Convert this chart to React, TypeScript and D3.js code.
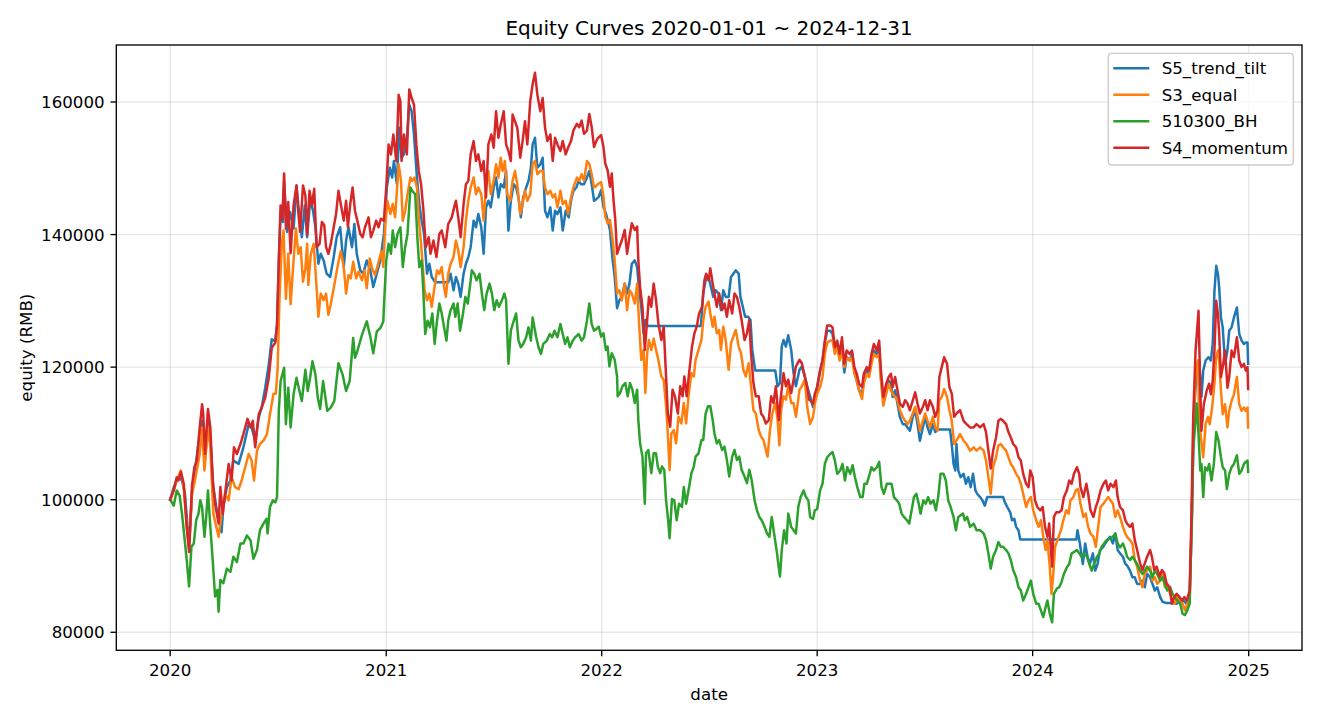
import React, { useEffect } from "react";
import * as d3 from "d3";

const W = 1320;
const H = 720;
const PLOT = { left: 116.3, right: 1302, top: 45, bottom: 650.3 };
const FONT = "DejaVu Sans, Verdana, sans-serif";

const chartTitle = "Equity Curves 2020-01-01 ~ 2024-12-31";
const xLabel = "date";
const yLabel = "equity (RMB)";
const seriesNames = ["S5_trend_tilt", "S3_equal", "510300_BH", "S4_momentum"];
const seriesColors = ["#1f77b4", "#ff7f0e", "#2ca02c", "#d62728"];
const yTickValues = [80000, 100000, 120000, 140000, 160000];
const xTickYears = [2020, 2021, 2022, 2023, 2024, 2025];
const yLimits = [77280, 168600];
const DAY = 86400000;
const startUtc = Date.UTC(2020, 0, 1);
const endUtc = Date.UTC(2024, 11, 31);

// [days since 2020-01-01, equity in thousand RMB]
const s5TrendTilt: [number, number][] = [
  [0,100],[6,101.9],[14,103.4],[20,102.9],[25,100.9],[32,92.9],[37,101.4],[42,104.4],[50,109.9],[54,111.9],[59,105.9],[64,111.9],[68,109.4],[73,101.9],[79,98.4],[87,95.1],[90,98.9],[96,101.9],[102,102.9],[107,105.9],[116,105.4],[124,107.9],[133,111.4],[138,110.9],[144,108.9],[150,112.4],[155,113.9],[161,116.9],[167,120.4],[172,124.2],[178,123.9],[181,126.4],[184,135.9],[187,143.4],[191,141.9],[193,147.9],[198,140.4],[203,143.4],[209,140.9],[214,147.4],[217,144.4],[223,139.6],[228,144.4],[232,139.6],[237,145.1],[242,143.6],[246,141.1],[251,135.6],[255,137.1],[260,136.1],[265,134.1],[271,133.6],[277,136.6],[282,139.6],[288,141.1],[294,135.1],[298,139.1],[302,141.1],[308,138.1],[312,141.6],[316,137.1],[322,134.6],[327,134.1],[333,136.1],[339,134.6],[344,132.1],[350,134.1],[356,136.1],
  [362,140.1],[367,147.1],[372,150.1],[376,148.6],[379,151.1],[384,147.6],[388,156.1],[392,151.6],[396,152.1],[401,154.6],[405,159.6],[409,158.6],[413,155.1],[418,148.6],[422,144.6],[426,142.1],[430,140.1],[435,134.1],[439,135.6],[443,133.6],[449,132.8],[457,132.8],[466,132.8],[471,132.8],[475,134.1],[480,131.6],[484,133.6],[488,132.6],[492,130.6],[497,134.1],[501,135.6],[505,136.6],[509,138.1],[514,142.1],[518,141.1],[522,143.1],[527,141.1],[531,137.1],[535,144.1],[539,145.1],[543,144.1],[548,147.1],[552,148.6],[556,145.6],[560,147.6],[565,147.1],[569,149.6],[573,140.6],[577,145.1],[582,147.6],[586,147.1],[590,145.6],[594,142.6],[598,145.6],[603,147.1],[607,148.1],[611,150.1],[614,153.6],[618,154.6],[622,150.1],[627,150.6],[631,151.6],[635,143.6],[639,142.6],[644,144.1],[648,140.6],[652,143.6],[656,143.1],[661,144.1],[665,140.6],[670,143.6],[675,142.6],[679,145.1],[683,146.6],[688,147.1],[692,148.1],[696,147.6],[701,147.6],[706,148.6],[710,149.6],[714,147.6],[718,145.1],
  [720,145.2],[726,145.7],[730,146.7],[734,144.2],[738,143.2],[741,142.2],[745,140.7],[749,136.6],[753,133.6],[757,128.9],[761,130.1],[765,130.6],[770,132.6],[774,131.1],[778,132.6],[782,135.6],[787,136.1],[791,135.1],[794,132.1],[798,129.1],[802,125.1],[805,127.1],[809,126.2],[899,126.2],[903,131.1],[907,133.1],[912,133.6],[916,132.1],[920,130.6],[924,131.6],[929,131.1],[933,128.6],[937,131.6],[941,130.6],[946,130.6],[950,133.6],[954,134.1],[958,134.6],[963,134.1],[966,130.6],[970,129.1],[974,127.6],[979,127.6],[983,127.1],[986,122.6],[991,119.5],[1025,119.5],[1029,117.1],[1033,117.6],[1036,123.1],[1039,124.1],[1043,123.1],[1047,124.8],[1052,122.6],[1056,119.1],[1060,117.1],[1066,119.6],[1070,120.1],[1075,118.6],[1079,117.1],[1084,115.6],
  [1089,114.0],[1092,115.5],[1096,117.0],[1101,119.5],[1105,121.0],[1109,123.7],[1113,125.5],[1118,125.5],[1122,125.0],[1126,122.5],[1130,123.5],[1134,121.5],[1138,123.0],[1142,119.2],[1146,121.5],[1151,121.0],[1155,122.0],[1159,119.5],[1163,118.0],[1167,116.5],[1172,116.0],[1175,118.0],[1180,119.5],[1184,119.0],[1188,121.0],[1192,122.5],[1197,122.0],[1201,123.0],[1204,118.5],[1208,115.0],[1213,116.5],[1217,118.0],[1221,117.5],[1224,115.5],[1228,116.5],[1232,114.5],[1236,112.5],[1241,111.4],[1245,111.4],[1249,110.9],[1253,110.4],[1258,112.5],[1262,113.5],[1266,111.4],[1270,108.9],[1275,110.9],[1279,112.5],[1283,110.9],[1287,109.9],[1292,111.4],[1296,110.2],[1301,110.6],[1321,110.6],[1324,108.4],[1327,105.4],[1330,104.4],[1332,108.4],[1335,104.4],[1339,103.4],[1344,103.9],[1348,102.4],[1352,103.4],[1356,101.9],[1360,103.9],[1364,101.4],[1367,100.9],[1372,100.4],[1376,99.9],[1380,99.1],[1384,100.4],[1411,100.4],[1414,99.6],[1418,98.9],[1423,98.1],[1426,96.9],[1430,97.1],[1433,95.9],[1437,95.4],[1440,94.0],[1535,94.0],
  [1537,95.4],[1541,93.4],[1546,90.3],[1550,93.4],[1554,91.4],[1558,90.3],[1563,91.9],[1567,89.3],[1571,90.3],[1575,92.4],[1580,92.8],[1584,93.4],[1588,93.9],[1592,94.4],[1597,93.4],[1601,94.9],[1605,92.4],[1609,91.9],[1614,91.4],[1618,90.3],[1621,90.1],[1626,89.3],[1630,88.3],[1634,88.3],[1638,87.3],[1643,87.3],[1647,87.8],[1651,86.8],[1655,88.8],[1660,88.3],[1664,87.3],[1668,86.3],[1672,86.8],[1677,85.3],[1681,84.6],[1688,84.4],[1699,84.4],[1705,84.3],[1711,84.6],[1716,84.8],[1722,84.3],[1727,85.8],[1731,97.4],[1734,112.4],[1739,120.0],[1743,121.0],[1747,115.5],[1750,119.5],[1754,121.0],[1759,121.5],[1763,121.0],[1766,123.5],[1769,131.5],[1772,135.3],[1775,134.0],[1777,132.0],[1780,127.5],[1783,126.0],[1787,120.5],[1791,122.5],[1794,125.5],[1798,126.0],[1802,127.5],[1807,129.0],[1811,125.0],[1815,124.0],[1819,123.5],[1822,123.7],[1825,123.7],[1826,120.5],
];

const s3Equal: [number, number][] = [
  [0,100],[6,101.4],[11,102.9],[18,104.4],[23,101.9],[28,95.9],[32,92.9],[37,100.9],[42,102.9],[50,106.9],[54,110.9],[58,104.4],[64,110.9],[68,107.9],[73,97.9],[82,94.4],[87,97.9],[93,100.9],[99,99.9],[104,103.4],[110,101.9],[116,101.6],[121,102.9],[127,104.9],[133,106.9],[138,105.9],[142,102.9],[147,107.4],[152,108.4],[158,108.9],[164,109.9],[169,112.9],[175,116.0],[179,116.0],[182,119.9],[185,129.9],[189,138.6],[192,140.6],[196,130.3],[200,137.1],[204,129.5],[209,136.1],[213,140.9],[217,137.1],[221,138.1],[225,132.9],[229,134.9],[232,138.6],[234,132.4],[238,136.9],[243,138.6],[247,133.4],[251,127.6],[255,131.1],[260,130.1],[264,131.1],[268,127.9],[272,129.5],[277,131.9],[281,133.9],[285,135.9],[289,137.5],[294,135.1],[298,131.1],[302,133.9],[306,133.4],[310,135.9],[315,133.4],[319,134.4],[325,133.1],[329,134.6],[333,131.9],[338,136.4],[342,134.9],[347,133.9],[353,135.9],[358,137.5],
  [361,135.1],[364,141.1],[368,145.1],[373,143.1],[377,144.6],[381,142.6],[387,150.6],[391,148.1],[394,142.1],[398,143.6],[402,146.1],[407,148.6],[410,148.1],[414,148.6],[418,147.1],[421,142.6],[425,138.6],[428,135.1],[431,131.6],[435,130.1],[439,131.1],[443,129.1],[447,131.6],[452,134.6],[456,134.1],[460,135.1],[464,132.1],[467,130.6],[471,134.1],[475,135.6],[480,136.6],[484,139.1],[488,137.6],[492,135.1],[497,138.1],[501,142.1],[505,145.1],[509,147.1],[514,148.6],[518,146.1],[522,147.1],[527,146.1],[531,142.1],[535,147.1],[539,149.6],[543,146.1],[548,148.1],[552,150.6],[556,148.6],[560,151.6],[563,149.6],[567,151.1],[571,146.1],[576,145.1],[580,148.1],[584,149.6],[588,147.6],[593,143.1],[597,144.6],[601,146.6],[605,145.1],[610,146.1],[614,150.6],[618,151.1],[622,149.1],[627,149.6],[631,149.6],[635,147.1],[639,146.1],[644,146.6],[648,145.6],[652,146.1],[656,144.1],[661,146.6],[665,144.6],[670,145.1],[674,143.1],[679,145.6],[683,147.1],[689,148.6],[693,148.1],[697,149.1],[701,148.1],[706,151.1],[710,150.6],[714,149.1],[718,147.1],
  [720,147.2],[726,147.7],[730,147.9],[734,145.7],[737,142.7],[741,141.7],[745,142.2],[749,139.6],[753,136.1],[757,131.1],[761,131.6],[765,130.1],[770,132.6],[774,128.6],[778,131.6],[782,131.1],[787,129.6],[791,132.6],[794,127.1],[798,121.1],[802,122.6],[805,116.1],[808,122.1],[811,124.1],[815,122.6],[819,124.3],[823,122.6],[827,121.1],[832,118.6],[836,118.1],[840,114.1],[843,110.0],[846,104.5],[849,110.0],[853,110.5],[857,108.5],[861,112.5],[866,111.5],[870,114.6],[874,111.5],[878,115.6],[883,119.1],[887,118.6],[890,121.1],[895,122.6],[900,124.1],[903,127.1],[907,129.1],[912,129.9],[915,128.1],[919,126.1],[922,127.6],[926,125.1],[930,125.6],[933,122.6],[937,126.1],[941,124.1],[946,119.6],[950,123.6],[954,124.6],[958,125.6],[963,123.1],[967,122.1],[971,119.6],[975,118.6],[980,120.6],[984,117.1],[988,113.5],[992,113.0],[997,110.5],[1001,109.5],[1005,109.0],[1009,107.5],[1012,106.5],[1016,110.5],[1020,113.0],[1025,114.6],[1029,112.0],[1032,108.2],[1035,113.5],[1039,115.6],[1043,115.1],[1047,117.1],[1052,114.6],[1056,114.6],[1060,112.5],[1066,116.6],[1070,117.1],[1075,118.1],[1079,114.1],[1082,112.5],
  [1084,111.4],[1089,112.5],[1092,114.5],[1096,116.0],[1101,117.0],[1105,118.5],[1109,122.0],[1113,123.7],[1118,124.0],[1122,124.0],[1126,122.0],[1130,123.0],[1134,121.0],[1138,122.5],[1142,120.0],[1146,121.5],[1151,121.0],[1155,121.5],[1159,119.0],[1163,118.0],[1167,116.5],[1172,115.2],[1175,117.5],[1180,119.0],[1184,118.5],[1188,120.5],[1192,122.0],[1197,121.5],[1201,122.0],[1204,118.0],[1208,114.2],[1213,116.0],[1217,117.5],[1221,116.5],[1224,116.0],[1228,115.5],[1232,115.0],[1236,113.5],[1241,112.5],[1245,111.9],[1249,111.4],[1253,111.9],[1258,113.0],[1262,114.0],[1266,112.5],[1270,110.4],[1275,111.9],[1279,113.0],[1283,111.9],[1287,110.9],[1292,112.5],[1296,110.9],[1300,110.4],[1303,115.0],[1307,115.5],[1311,116.7],[1316,115.5],[1320,113.5],[1324,111.9],[1328,108.4],[1332,108.9],
  [1338,109.9],[1344,108.9],[1349,108.4],[1355,107.4],[1361,107.9],[1366,107.4],[1372,107.9],[1378,107.4],[1382,105.9],[1386,103.4],[1390,100.9],[1394,104.9],[1399,106.4],[1403,108.2],[1407,108.4],[1411,107.9],[1416,107.4],[1420,106.4],[1424,105.4],[1428,104.9],[1433,103.9],[1437,103.4],[1441,102.4],[1445,100.9],[1450,98.9],[1454,99.9],[1458,100.4],[1462,98.4],[1467,96.9],[1471,95.9],[1475,96.9],[1479,94.4],[1483,92.4],[1486,93.9],[1490,89.9],[1493,85.8],[1496,88.8],[1499,92.9],[1505,94.4],[1509,95.4],[1513,96.9],[1518,98.4],[1522,97.9],[1525,99.9],[1530,100.4],[1534,101.4],[1538,101.6],[1542,99.4],[1547,97.4],[1551,97.9],[1555,95.9],[1559,94.9],[1564,94.4],[1568,92.9],[1572,95.9],[1576,98.9],[1581,99.4],[1585,99.9],[1589,100.4],
  [1597,99.4],[1601,97.4],[1605,98.4],[1609,97.4],[1614,95.9],[1618,94.9],[1621,94.4],[1626,93.9],[1630,93.4],[1634,90.9],[1638,89.9],[1643,87.8],[1647,86.8],[1651,88.8],[1655,89.3],[1660,89.9],[1664,87.8],[1668,88.3],[1672,87.3],[1677,87.8],[1681,88.8],[1685,86.8],[1689,87.3],[1694,85.8],[1698,84.8],[1702,84.3],[1706,85.3],[1711,84.8],[1715,84.3],[1719,83.3],[1723,84.3],[1727,84.8],[1730,94.9],[1733,109.9],[1737,119.0],[1741,121.0],[1743,112.5],[1746,109.4],[1750,106.4],[1754,111.4],[1758,112.5],[1761,111.4],[1765,113.9],[1769,117.5],[1772,121.5],[1775,122.5],[1777,121.0],[1780,116.5],[1783,112.9],[1787,114.4],[1791,110.9],[1794,113.4],[1798,114.9],[1802,115.9],[1807,118.5],[1811,114.4],[1815,113.4],[1819,113.9],[1822,113.4],[1825,113.9],[1826,110.9],
];

const bh510300: [number, number][] = [
  [0,100],[6,99.1],[11,101.4],[16,100.6],[20,97.9],[24,94.4],[28,90.9],[32,86.9],[36,92.9],[40,93.4],[44,96.9],[48,97.9],[51,99.9],[54,98.9],[58,94.4],[61,97.4],[64,101.4],[68,95.9],[72,90.9],[76,85.4],[80,86.4],[82,83.1],[85,87.9],[90,87.4],[96,89.6],[102,89.1],[107,91.4],[113,90.6],[119,93.4],[124,93.4],[130,94.6],[136,93.9],[141,91.1],[147,92.4],[152,95.4],[158,96.4],[163,97.1],[165,94.9],[169,98.9],[174,99.9],[178,99.6],[181,100.4],[184,113.4],[187,117.9],[193,119.9],[196,111.4],[200,116.9],[204,110.9],[209,115.9],[214,118.4],[219,116.4],[223,114.9],[229,119.6],[233,116.4],[237,118.4],[241,120.9],[246,118.9],[250,115.4],[254,113.7],[259,117.9],[263,115.4],[266,113.4],[272,113.9],[278,114.9],[285,120.6],[292,118.9],[298,116.4],[304,117.9],[310,124.4],[313,121.4],[317,122.4],[325,124.9],[333,126.9],[339,124.6],[344,122.1],[350,125.4],[356,125.9],
  [361,126.9],[362,129.0],[366,136.1],[370,138.6],[374,137.1],[377,140.6],[381,138.1],[385,140.1],[390,141.1],[394,135.1],[398,138.1],[402,140.1],[407,147.1],[410,146.6],[415,146.1],[419,139.1],[422,135.1],[426,136.1],[429,131.1],[432,125.0],[436,127.0],[440,126.0],[444,128.1],[448,123.5],[452,127.0],[456,129.6],[460,128.1],[464,126.0],[468,124.0],[471,127.0],[475,128.6],[480,129.6],[483,127.6],[487,129.6],[491,125.5],[496,128.1],[500,130.6],[504,129.6],[507,131.6],[511,134.6],[515,134.1],[519,133.1],[524,134.1],[528,131.1],[532,128.6],[536,131.1],[541,132.6],[545,131.1],[549,128.6],[553,130.1],[557,129.1],[562,130.1],[566,131.1],[569,130.1],[573,120.5],[577,125.5],[582,127.0],[586,128.1],[590,124.0],[594,123.0],[598,123.5],[603,124.5],[607,126.0],[611,124.0],[614,127.5],[620,124.5],[624,123.0],[628,122.0],[632,123.5],[638,124.0],[643,125.0],[647,124.5],[651,125.5],[656,124.5],[661,126.5],[665,125.0],[669,123.5],[673,124.5],[677,123.0],[682,124.0],[686,124.5],[692,125.0],[697,124.0],[701,124.5],[706,127.0],[710,129.6],[714,126.5],[718,125.5],
  [720,125.6],[726,126.1],[730,124.6],[734,125.1],[738,122.6],[741,123.1],[744,120.1],[748,122.1],[753,121.1],[757,118.6],[758,115.6],[762,116.1],[766,117.1],[771,117.6],[775,115.6],[779,117.6],[783,116.6],[787,114.6],[791,116.6],[793,112.0],[796,108.5],[800,106.5],[804,99.4],[806,107.0],[810,107.5],[815,104.0],[819,107.0],[823,107.0],[826,105.0],[830,104.0],[833,105.0],[837,104.5],[840,99.9],[843,97.4],[846,94.2],[850,100.1],[854,99.9],[858,96.9],[862,99.4],[867,98.9],[870,101.9],[874,99.4],[878,101.4],[883,104.0],[887,105.0],[890,106.5],[895,107.0],[900,109.0],[903,109.0],[907,113.0],[911,114.1],[915,114.1],[919,112.0],[922,110.0],[926,108.5],[930,109.0],[935,107.5],[939,108.0],[943,106.0],[947,103.5],[952,106.5],[956,107.5],[960,106.0],[964,106.5],[968,104.5],[973,103.5],[977,102.5],[981,104.5],[985,103.0],[990,99.9],[994,98.4],[998,97.4],[1002,96.9],[1007,95.9],[1011,94.9],[1015,94.4],[1019,97.4],[1023,94.9],[1028,91.9],[1030,90.4],[1033,88.4],[1036,92.4],[1040,95.4],[1044,93.4],[1047,97.9],[1052,95.9],[1056,95.4],[1060,94.9],[1064,98.9],[1068,100.4],[1073,101.4],[1077,100.4],[1081,99.9],
  [1084,97.4],[1089,97.1],[1092,98.4],[1096,98.6],[1101,101.4],[1105,102.4],[1109,105.4],[1113,106.4],[1118,106.9],[1122,107.2],[1126,105.9],[1130,103.9],[1135,104.4],[1139,105.4],[1143,102.9],[1147,104.9],[1152,103.9],[1156,105.2],[1160,103.4],[1164,101.9],[1169,100.4],[1173,100.4],[1176,102.4],[1180,102.4],[1185,103.9],[1188,104.9],[1192,104.4],[1197,104.9],[1201,105.7],[1205,101.9],[1209,100.9],[1214,102.4],[1218,102.4],[1222,102.4],[1226,100.4],[1231,99.9],[1235,99.4],[1239,97.9],[1243,97.4],[1248,96.9],[1252,96.4],[1256,98.4],[1260,100.4],[1264,100.9],[1268,99.4],[1271,97.9],[1276,99.9],[1280,99.4],[1284,100.4],[1288,99.4],[1293,99.9],[1297,98.4],[1301,100.4],[1305,103.9],[1310,103.9],[1314,102.9],[1318,99.9],[1322,98.9],[1327,97.4],[1331,95.4],[1335,97.4],
  [1343,97.9],[1346,96.9],[1350,97.4],[1355,95.9],[1361,96.4],[1366,95.4],[1372,95.4],[1378,94.9],[1382,93.9],[1386,91.9],[1390,89.6],[1394,91.4],[1399,92.4],[1403,93.6],[1407,92.9],[1411,92.9],[1416,92.4],[1420,91.9],[1424,90.9],[1428,89.4],[1433,88.3],[1437,86.8],[1441,86.3],[1445,84.8],[1450,85.8],[1454,86.8],[1458,87.8],[1462,85.8],[1467,84.3],[1471,84.3],[1475,83.3],[1479,82.3],[1483,83.8],[1486,84.8],[1490,82.8],[1494,81.5],[1497,85.8],[1502,86.6],[1506,86.8],[1510,87.6],[1514,88.8],[1519,89.8],[1523,90.3],[1527,91.9],[1531,92.1],[1536,92.4],[1540,91.9],[1544,91.4],[1548,91.9],[1553,91.4],[1557,90.3],[1561,89.3],[1565,90.3],[1570,91.4],[1574,91.9],[1578,92.9],[1582,93.4],[1586,93.9],[1591,94.1],
  [1597,94.4],[1601,94.9],[1605,93.4],[1609,92.8],[1614,93.4],[1618,92.4],[1621,91.4],[1626,90.9],[1630,91.4],[1634,90.9],[1638,90.3],[1643,89.3],[1647,88.8],[1651,89.3],[1655,89.9],[1660,89.3],[1664,88.3],[1668,89.3],[1672,88.8],[1677,87.8],[1681,88.3],[1685,87.3],[1689,86.3],[1694,86.8],[1698,85.8],[1702,85.3],[1706,84.8],[1711,84.3],[1715,82.8],[1719,82.6],[1723,83.3],[1727,84.3],[1730,94.9],[1733,107.4],[1736,110.9],[1739,114.5],[1742,109.9],[1745,104.4],[1747,105.4],[1750,100.4],[1753,104.9],[1757,104.4],[1760,105.4],[1764,102.9],[1768,105.4],[1772,110.2],[1776,108.9],[1780,106.4],[1783,104.9],[1787,104.4],[1790,101.6],[1794,103.9],[1798,104.9],[1802,105.4],[1807,106.7],[1811,103.9],[1815,104.4],[1819,105.4],[1822,105.7],[1825,105.9],[1826,104.2],
];

const s4Momentum: [number, number][] = [
  [0,100],[6,101.4],[11,103.4],[14,102.9],[18,104.2],[23,102.4],[28,95.9],[32,92.1],[37,102.2],[41,104.9],[45,105.9],[50,110.9],[54,114.4],[56,112.9],[59,106.9],[64,113.7],[68,110.9],[72,102.9],[76,99.4],[82,96.4],[85,101.9],[89,97.9],[93,100.9],[99,105.4],[104,102.9],[108,107.9],[113,106.9],[119,108.4],[124,109.9],[131,112.2],[136,110.9],[140,111.9],[144,107.9],[150,112.9],[155,113.9],[161,115.4],[167,118.4],[172,122.9],[178,123.7],[181,126.4],[184,135.9],[187,144.4],[190,142.4],[193,149.2],[196,140.9],[200,144.9],[204,137.2],[209,144.4],[214,147.4],[217,143.4],[220,140.4],[225,147.4],[229,145.9],[232,140.0],[236,146.6],[240,144.4],[244,146.9],[248,138.1],[253,138.6],[257,141.9],[261,141.4],[264,138.1],[268,137.1],[272,138.6],[277,141.1],[281,143.1],[285,146.6],[290,144.1],[294,142.1],[298,145.1],[301,141.1],[305,144.6],[309,147.1],[313,143.6],[317,142.1],[322,140.1],[326,139.6],[330,141.1],[336,142.6],[340,139.6],[344,140.6],[349,142.1],[353,141.1],[357,142.4],
  [362,142.1],[366,147.1],[370,153.6],[374,152.1],[378,155.1],[383,151.1],[387,161.1],[390,160.1],[392,151.1],[396,155.1],[401,152.1],[405,161.9],[409,160.6],[413,159.6],[417,153.6],[421,149.6],[425,147.6],[429,143.6],[433,138.1],[438,139.6],[441,137.1],[446,139.1],[451,136.6],[456,140.1],[460,140.6],[466,138.1],[471,141.6],[477,142.6],[481,144.1],[484,145.1],[488,142.6],[492,139.6],[497,144.6],[501,147.6],[505,148.1],[509,152.1],[514,154.1],[518,151.1],[522,152.1],[527,149.6],[531,151.1],[535,145.6],[539,153.6],[544,155.1],[548,153.1],[552,158.6],[556,154.6],[560,156.6],[565,158.6],[569,153.6],[573,152.6],[577,151.1],[580,158.1],[584,157.1],[588,156.1],[593,151.6],[597,154.1],[601,157.1],[605,153.6],[610,160.2],[614,162.7],[618,164.4],[622,161.1],[627,158.6],[631,160.6],[635,156.1],[639,154.1],[644,155.1],[648,151.1],[652,154.6],[656,153.6],[661,152.6],[665,154.1],[670,152.1],[674,153.1],[679,154.1],[683,155.7],[689,156.7],[693,156.2],[697,157.2],[701,155.2],[706,155.7],[710,158.2],[714,156.2],[718,153.2],
  [720,153.7],[724,154.5],[730,155.0],[734,153.2],[737,150.7],[741,149.7],[745,147.2],[748,149.2],[751,145.2],[754,142.2],[757,137.1],[761,138.1],[765,139.1],[770,140.7],[774,137.1],[778,139.6],[782,141.7],[787,140.7],[791,141.2],[793,136.1],[796,132.1],[800,129.1],[804,122.6],[808,127.1],[811,130.6],[815,129.1],[819,132.6],[823,130.1],[827,126.6],[832,124.1],[836,126.1],[840,118.6],[843,113.0],[847,111.0],[851,116.6],[855,115.6],[860,113.0],[864,117.1],[868,115.6],[871,118.6],[875,115.6],[879,119.1],[884,123.1],[888,125.1],[892,126.1],[896,128.1],[901,129.1],[905,133.1],[908,134.1],[912,133.1],[915,134.9],[919,132.6],[922,131.1],[926,129.1],[930,131.1],[935,128.6],[939,129.6],[943,127.6],[947,130.1],[952,128.1],[956,131.1],[960,130.6],[964,129.1],[968,127.1],[973,124.1],[977,125.1],[981,127.1],[984,122.1],[988,117.6],[992,115.6],[997,115.6],[1001,113.0],[1005,112.5],[1009,111.5],[1014,112.0],[1018,115.6],[1022,114.6],[1026,117.1],[1031,112.0],[1034,115.1],[1039,119.1],[1043,117.1],[1047,118.1],[1052,116.1],[1056,118.1],[1060,120.1],[1066,121.1],[1070,120.6],[1075,118.6],[1079,117.1],[1082,115.1],
  [1084,115.0],[1089,114.5],[1092,116.0],[1096,117.0],[1101,119.5],[1105,121.0],[1109,124.0],[1113,126.3],[1118,126.3],[1122,126.0],[1126,123.0],[1130,124.0],[1134,122.0],[1138,124.5],[1142,120.5],[1146,122.5],[1151,122.0],[1155,122.5],[1159,120.0],[1163,119.0],[1167,117.5],[1172,117.0],[1175,119.0],[1180,120.0],[1184,119.5],[1188,122.0],[1192,123.5],[1197,122.5],[1201,124.0],[1204,119.5],[1208,115.5],[1213,117.5],[1217,118.5],[1221,119.0],[1224,117.0],[1228,118.5],[1232,116.5],[1236,114.5],[1241,114.0],[1245,115.0],[1249,114.5],[1253,113.5],[1258,115.0],[1262,116.2],[1266,114.5],[1270,113.0],[1275,114.0],[1279,115.0],[1283,113.5],[1287,115.0],[1292,114.0],[1296,112.5],[1300,113.5],[1303,118.5],[1307,120.0],[1311,121.5],[1316,120.5],[1320,117.0],[1324,116.0],[1328,112.5],[1332,113.0],
  [1338,113.5],[1344,111.9],[1349,111.4],[1355,110.9],[1361,110.9],[1366,111.4],[1372,110.9],[1378,111.4],[1382,110.2],[1386,107.4],[1390,104.7],[1394,107.4],[1399,109.4],[1403,111.9],[1407,112.2],[1411,111.9],[1416,111.4],[1420,110.2],[1424,109.4],[1428,108.4],[1433,107.9],[1437,106.4],[1441,105.9],[1445,103.9],[1450,102.4],[1454,101.9],
  [1457,104.4],[1461,103.4],[1465,99.9],[1469,98.9],[1474,98.4],[1478,98.9],[1482,95.9],[1486,94.4],[1489,96.4],[1492,92.4],[1494,89.9],[1497,97.4],[1501,98.1],[1506,98.1],[1510,98.4],[1514,100.4],[1519,101.4],[1523,102.9],[1527,102.4],[1531,103.9],[1536,104.9],[1540,103.9],[1542,101.9],[1547,100.4],[1552,102.4],[1555,100.9],[1559,98.4],[1564,97.4],[1568,98.9],[1572,99.9],[1576,101.4],[1581,102.4],[1585,102.9],[1589,101.4],[1593,102.4],[1598,101.9],[1602,102.9],[1605,100.4],[1609,98.9],[1614,98.4],[1618,96.9],[1621,96.4],[1626,95.9],[1630,96.4],[1634,93.9],[1638,92.4],[1643,90.4],[1647,89.4],[1651,90.4],[1655,91.4],[1660,92.4],[1663,91.4],[1667,89.4],[1671,89.9],[1676,88.4],[1680,89.4],[1684,88.9],[1688,87.3],[1693,86.8],[1697,84.3],[1701,85.3],[1705,85.8],[1710,85.3],[1714,84.8],[1718,85.3],[1722,84.8],[1727,86.3],[1730,97.4],[1733,112.4],[1737,122.5],[1742,128.5],[1745,116.5],[1747,110.4],[1751,114.4],[1756,116.5],[1760,117.5],[1763,115.9],[1766,117.9],[1769,122.5],[1772,130.0],[1775,128.0],[1777,125.0],[1780,118.5],[1783,120.0],[1787,122.5],[1791,116.9],[1794,118.5],[1798,122.5],[1802,121.5],[1807,124.5],[1811,121.0],[1815,120.0],[1819,120.5],[1822,119.5],[1825,120.0],[1826,116.7],
];

const seriesData = [s5TrendTilt, s3Equal, bh510300, s4Momentum];

export default function App() {
  useEffect(() => {
    document.body.style.margin = "0";
  }, []);

  const marginDays = (endUtc - startUtc) * 0.05;
  const x = d3
    .scaleUtc()
    .domain([new Date(startUtc - marginDays), new Date(endUtc + marginDays)])
    .range([PLOT.left, PLOT.right]);
  const y = d3.scaleLinear().domain(yLimits).range([PLOT.bottom, PLOT.top]);

  const line = d3
    .line<[number, number]>()
    .x((p) => x(new Date(startUtc + p[0] * DAY)))
    .y((p) => y(p[1] * 1000));

  const xTicks = xTickYears.map((yr) => new Date(Date.UTC(yr, 0, 1)));
  const tickLen = 5.83;
  const fs = 16.67;

  const legendX = 1108.3;
  const legendY = 53.3;
  const legendW = 185;
  const legendH = 111.7;
  const rowGap = 26.5;

  return (
    <svg
      width={W}
      height={H}
      viewBox={`0 0 ${W} ${H}`}
      style={{ position: "absolute", left: 0, top: 0, background: "#fff", display: "block" }}
      fontFamily={FONT}
    >
      <rect x={0} y={0} width={W} height={H} fill="#fff" />
      {/* grid */}
      <g stroke="#b0b0b0" strokeOpacity={0.3} strokeWidth={1.33}>
        {xTicks.map((d, i) => (
          <line key={"gx" + i} x1={x(d)} x2={x(d)} y1={PLOT.top} y2={PLOT.bottom} />
        ))}
        {yTickValues.map((v, i) => (
          <line key={"gy" + i} x1={PLOT.left} x2={PLOT.right} y1={y(v)} y2={y(v)} />
        ))}
      </g>
      {/* lines */}
      <g fill="none" strokeWidth={2.5} strokeLinejoin="round" strokeLinecap="square">
        {seriesData.map((s, i) => (
          <path key={seriesNames[i]} d={line(s) || ""} stroke={seriesColors[i]} />
        ))}
      </g>
      {/* spines */}
      <rect
        x={PLOT.left}
        y={PLOT.top}
        width={PLOT.right - PLOT.left}
        height={PLOT.bottom - PLOT.top}
        fill="none"
        stroke="#000"
        strokeWidth={1.33}
      />
      {/* x ticks */}
      <g>
        {xTicks.map((d, i) => (
          <g key={"xt" + i}>
            <line x1={x(d)} x2={x(d)} y1={PLOT.bottom} y2={PLOT.bottom + tickLen} stroke="#000" strokeWidth={1.33} />
            <text x={x(d)} y={676} textAnchor="middle" fontSize={fs} fill="#000">
              {d.getUTCFullYear()}
            </text>
          </g>
        ))}
      </g>
      {/* y ticks */}
      <g>
        {yTickValues.map((v, i) => (
          <g key={"yt" + i}>
            <line x1={PLOT.left - tickLen} x2={PLOT.left} y1={y(v)} y2={y(v)} stroke="#000" strokeWidth={1.33} />
            <text x={PLOT.left - tickLen - 5.83} y={y(v) + 6.1} textAnchor="end" fontSize={fs} fill="#000">
              {d3.format("d")(v)}
            </text>
          </g>
        ))}
      </g>
      {/* labels */}
      <text x={(PLOT.left + PLOT.right) / 2} y={35.3} textAnchor="middle" fontSize={20} fill="#000">
        {chartTitle}
      </text>
      <text x={(PLOT.left + PLOT.right) / 2} y={700} textAnchor="middle" fontSize={fs} fill="#000">
        {xLabel}
      </text>
      <text
        transform={`translate(32,${(PLOT.top + PLOT.bottom) / 2}) rotate(-90)`}
        textAnchor="middle"
        fontSize={fs}
        fill="#000"
      >
        {yLabel}
      </text>
      {/* legend */}
      <g>
        <rect
          x={legendX}
          y={legendY}
          width={legendW}
          height={legendH}
          rx={3.3}
          ry={3.3}
          fill="#fff"
          fillOpacity={0.8}
          stroke="#cccccc"
          strokeWidth={1.33}
        />
        {seriesNames.map((name, i) => {
          const cy = 68.3 + i * rowGap;
          return (
            <g key={"lg" + i}>
              <line x1={1113.3} x2={1149.3} y1={cy} y2={cy} stroke={seriesColors[i]} strokeWidth={2.5} />
              <text x={1161.7} y={cy + 6.1} fontSize={fs} fill="#000">
                {name}
              </text>
            </g>
          );
        })}
      </g>
    </svg>
  );
}
